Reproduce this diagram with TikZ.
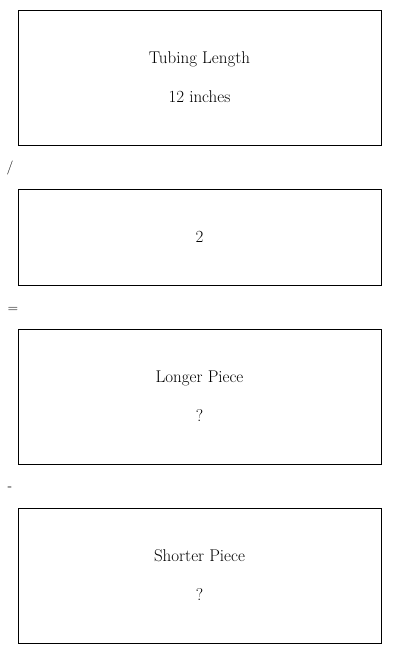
\documentclass[tikz,border=0pt]{standalone}
\usepackage{tikz}
\usetikzlibrary{positioning}
\tikzstyle{box} = [rectangle, draw, line width=0.8pt, text centered, align=center, minimum width=363pt, minimum height=135pt, font=\fontsize{17}{20}\selectfont]
\tikzstyle{op} = [inner sep=0pt, font=\fontsize{14}{16}\selectfont]

\begin{document}
\begin{tikzpicture}[x=1pt, y=-1pt]
    \useasboundingbox (0,0) rectangle (400,654);
    \node[box] (tubing) at (199.5,77.5) {Tubing Length\\[19pt]12 inches};
    \node[op] (div) at (10,168) {/};
    \node[box, minimum height=96pt] (two) at (199.5,237) {2};
    \node[op] (eq) at (13,310) {=};
    \node[box] (longer) at (199.5,396.5) {Longer Piece\\[19pt]?};
    \node[op] (minus) at (10,489) {-};
    \node[box] (shorter) at (199.5,575.5) {Shorter Piece\\[19pt]?};
\end{tikzpicture}
\end{document}
